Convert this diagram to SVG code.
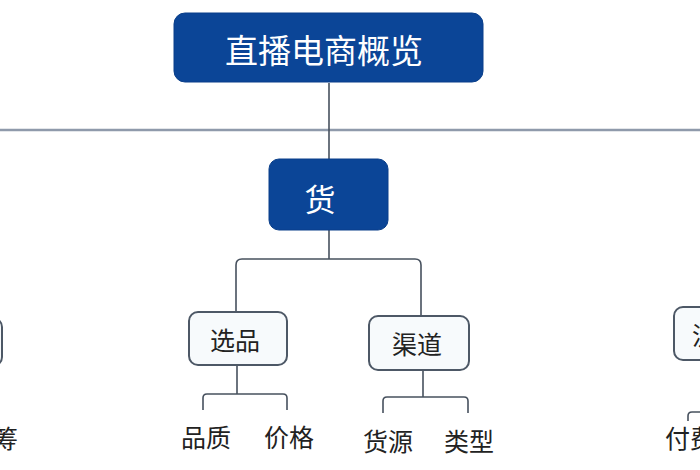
<svg xmlns="http://www.w3.org/2000/svg" width="700" height="470" viewBox="0 0 700 470">
<style>
.dark{fill:#0b4597;stroke:#0a3f8a;stroke-width:1}
.light{fill:#f7fafc;stroke:#4d5866;stroke-width:2}
.wt{fill:#ffffff;font-family:"Noto Sans CJK SC","Noto Sans",sans-serif;text-anchor:middle;dominant-baseline:central}
.bt{fill:#222222;font-family:"Noto Sans CJK SC","Noto Sans",sans-serif;font-size:25px;dominant-baseline:central}
.ln{fill:none;stroke:#47515e;stroke-width:1.6}
</style>
<rect width="700" height="470" fill="#ffffff"/>
<g id="connectors">
<line x1="0" y1="130" x2="700" y2="130" stroke="#8f9aab" stroke-width="2.4"/>
<path class="ln" d="M329 83 V160"/>
<path class="ln" d="M329 230 V259"/>
<path class="ln" d="M236 312 V265 Q236 259 242 259 H415 Q421 259 421 265 V316"/>
<path class="ln" d="M237 365 V394"/>
<path class="ln" d="M203 410 V398 Q203 394 207 394 H283 Q287 394 287 398 V410"/>
<path class="ln" d="M423 370 V397"/>
<path class="ln" d="M383 413 V401 Q383 397 387 397 H464 Q468 397 468 401 V413"/>
<path class="ln" d="M688 421 V416 Q688 412 692 412 H700"/>
</g>
<g id="root">
<rect class="dark" x="174" y="13" width="309" height="69" rx="11"/>
<text class="wt" x="324" y="49" font-size="33">直播电商概览</text>
</g>
<g id="huo">
<rect class="dark" x="269" y="159" width="119" height="71" rx="10"/>
<text class="wt" x="320" y="197" font-size="31">货</text>
</g>
<g id="xuanpin">
<rect class="light" x="189" y="312" width="98" height="53" rx="9"/>
<text class="bt" x="235" y="339" text-anchor="middle">选品</text>
</g>
<g id="qudao">
<rect class="light" x="369" y="316" width="100" height="54" rx="9"/>
<text class="bt" x="417" y="343" text-anchor="middle">渠道</text>
</g>
<g id="pinzhi"><text class="bt" x="206" y="436" text-anchor="middle">品质</text></g>
<g id="jiage"><text class="bt" x="289" y="436" text-anchor="middle">价格</text></g>
<g id="huoyuan"><text class="bt" x="388" y="440" text-anchor="middle">货源</text></g>
<g id="leixing"><text class="bt" x="469" y="440" text-anchor="middle">类型</text></g>
<g id="left-node">
<rect class="light" x="-60" y="318" width="62" height="48" rx="9"/>
</g>
<g id="left-leaf"><text class="bt" x="-7" y="437">筹</text></g>
<g id="right-node">
<rect class="light" x="674" y="307" width="80" height="53" rx="9"/>
<text class="bt" x="692" y="334">流</text>
</g>
<g id="right-leaf"><text class="bt" x="665" y="437">付费</text></g>
</svg>
